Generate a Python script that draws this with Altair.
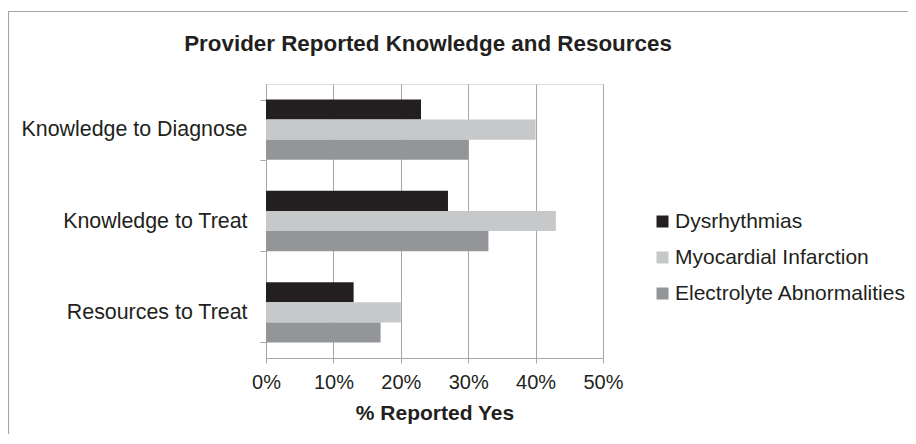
import altair as alt
import pandas as pd

title_text = "Provider Reported Knowledge and Resources"
categories = ["Knowledge to Diagnose", "Knowledge to Treat", "Resources to Treat"]
series = ["Dysrhythmias", "Myocardial Infarction", "Electrolyte Abnormalities"]
dysrhythmias = [0.23, 0.27, 0.13]
myocardial = [0.40, 0.43, 0.20]
electrolyte = [0.30, 0.33, 0.17]
colors = ["#231f20", "#c7c8ca", "#939598"]

rows = []
for s, vals in zip(series, [dysrhythmias, myocardial, electrolyte]):
    for c, v in zip(categories, vals):
        rows.append({"Category": c, "Series": s, "Value": v})
df = pd.DataFrame(rows)

FONT = "Liberation Sans"
GRID = "#a6a6a6"
TXT = "#231f20"

bars = alt.Chart(df).mark_bar().encode(
    x=alt.X("Value:Q",
            scale=alt.Scale(domain=[0, 0.5], nice=False),
            axis=alt.Axis(format=".0%", values=[0, 0.1, 0.2, 0.3, 0.4, 0.5],
                          title="% Reported Yes", grid=True, gridColor=GRID,
                          domainColor=GRID, tickColor=GRID, tickSize=5,
                          labelPadding=9, labelFontSize=20, labelFont=FONT,
                          labelColor=TXT, titleFont=FONT, titleFontSize=21,
                          titleFontWeight="bold", titleColor=TXT, titlePadding=10,
                          labelFlush=False)),
    y=alt.Y("Category:N", sort=categories,
            scale=alt.Scale(paddingInner=0.34, paddingOuter=0.17),
            axis=alt.Axis(title=None, tickBand="extent", domainColor=GRID,
                          tickColor=GRID, tickSize=6, labelPadding=13,
                          labelFontSize=21.4, labelFont=FONT, labelColor=TXT,
                          grid=False, labelLimit=400)),
    yOffset=alt.YOffset("Series:N", sort=series),
    color=alt.Color("Series:N", sort=series,
                    scale=alt.Scale(domain=series, range=colors),
                    legend=alt.Legend(title=None, orient="none", legendX=386,
                                      legendY=127, symbolType="square",
                                      symbolSize=144, symbolStrokeWidth=0,
                                      labelFontSize=21, labelFont=FONT,
                                      labelColor=TXT, rowPadding=14,
                                      labelOffset=2, labelLimit=400)),
)

one = pd.DataFrame({"t": [title_text]})
title = alt.Chart(one).mark_text(font=FONT, fontSize=22.4, fontWeight="bold",
                                 color=TXT, align="center",
                                 baseline="alphabetic").encode(
    text="t:N", x=alt.value(162), y=alt.value(-33))

top_rule = alt.Chart(one).mark_rule(color=GRID, strokeWidth=1.2).encode(
    x=alt.value(-258), x2=alt.value(650), y=alt.value(-72.5))
left_rule = alt.Chart(one).mark_rule(color=GRID, strokeWidth=1.2).encode(
    x=alt.value(-257.5), y=alt.value(-72.5), y2=alt.value(350))

chart = alt.layer(bars, title, top_rule, left_rule).properties(
    width=337, height=274,
    autosize=alt.AutoSizeParams(type="none"),
    padding={"left": 258, "top": 76, "right": 305, "bottom": 78},
).configure_view(stroke=None).configure(background="white")

chart.save("out.html", embed_options={"renderer": "svg", "actions": False})
